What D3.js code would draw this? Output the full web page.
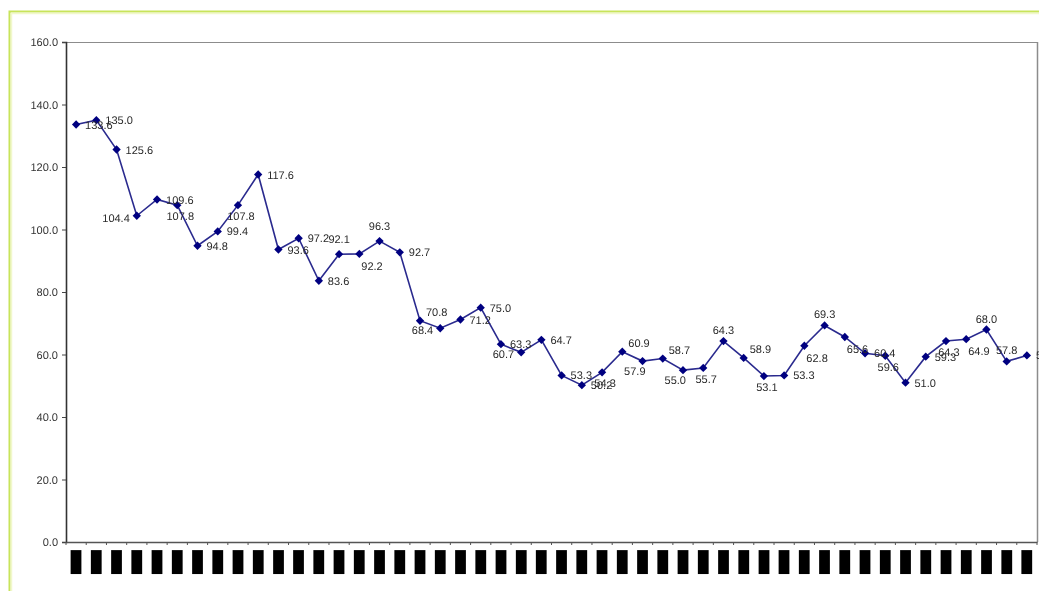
<!DOCTYPE html>
<html>
<head>
<meta charset="utf-8">
<script src="https://cdn.jsdelivr.net/npm/d3@7"></script>
<style>
  html, body { margin: 0; padding: 0; background: #ffffff; }
  svg { display: block; }
  text { -webkit-font-smoothing: antialiased; text-rendering: geometricPrecision; }
  .xaxis, .lbl, .yaxis { filter: grayscale(1); }
</style>
</head>
<body>
<svg id="chart" width="1039" height="591"></svg>
<script>
// ---- data ----
const values = [133.6, 135.0, 125.6, 104.4, 109.6, 107.8, 94.8, 99.4, 107.8, 117.6,
                93.6, 97.2, 83.6, 92.1, 92.2, 96.3, 92.7, 70.8, 68.4, 71.2,
                75.0, 63.3, 60.7, 64.7, 53.3, 50.2, 54.3, 60.9, 57.9, 58.7,
                55.0, 55.7, 64.3, 58.9, 53.1, 53.3, 62.8, 69.3, 65.6, 60.4,
                59.6, 51.0, 59.3, 64.3, 64.9, 68.0, 57.8, 59.7];
const categories = d3.range(1, values.length + 1);
const xTickLabels = categories.map(() => "█");
const yTicks = [0, 20, 40, 60, 80, 100, 120, 140, 160];
// label placement codes (style)
const labelPlace = ["r","r","r","l","r","b","r","r","b","r",
                    "r","r","r","aa","br","aa","r","ar","l","r",
                    "r","r","l","r","r","r","b","ar","bl","ar",
                    "bl","b","a","ar","b","r","br","a","br","r",
                    "b","r","r","b","br","a","a","r"];

const W = 1039, H = 591;
const svg = d3.select("#chart");
const m = { left: 66, top: 42, right: 1037, bottom: 542 };

// outer frame
svg.append("rect").attr("x", 9.5).attr("y", 11.5).attr("width", 1100).attr("height", 700)
  .attr("fill", "#ffffff").attr("stroke", "#c8e45a").attr("stroke-width", 2);
svg.append("line").attr("x1", 11).attr("x2", W).attr("y1", 13.5).attr("y2", 13.5)
  .attr("stroke", "#f1f8cc").attr("stroke-width", 1.5);
svg.append("line").attr("x1", 11.5).attr("x2", 11.5).attr("y1", 13).attr("y2", H)
  .attr("stroke", "#f1f8cc").attr("stroke-width", 1.5);

const x = d3.scaleBand().domain(categories).range([m.left, m.right]);
const y = d3.scaleLinear().domain([0, 160]).range([m.bottom, m.top]);

// plot border top/right
svg.append("line").attr("x1", m.left).attr("x2", m.right).attr("y1", m.top + 0.5).attr("y2", m.top + 0.5)
  .attr("stroke", "#8c8c8c").attr("stroke-width", 1.2);
svg.append("line").attr("x1", m.right + 0.5).attr("x2", m.right + 0.5).attr("y1", m.top).attr("y2", m.bottom)
  .attr("stroke", "#8c8c8c").attr("stroke-width", 1.5);

// y axis
const yAxis = d3.axisLeft(y).tickValues(yTicks).tickFormat(d3.format(".1f")).tickSize(4).tickPadding(4);
const gy = svg.append("g").attr("class", "yaxis").attr("transform", `translate(${m.left},0)`).call(yAxis);
gy.select(".domain").attr("stroke", "#333").attr("stroke-width", 1.6);
gy.selectAll(".tick line").attr("stroke", "#444");
gy.selectAll(".tick text").attr("font-family", "Liberation Sans, Arial, sans-serif")
  .attr("font-size", 11).attr("fill", "#333");

// x axis
const xAxis = d3.axisBottom(x).tickSize(0).tickFormat((d, i) => xTickLabels[i]);
const gx = svg.append("g").attr("class", "xaxis").attr("transform", `translate(0,${m.bottom})`).call(xAxis);
gx.select(".domain").attr("stroke", "#555").attr("stroke-width", 1.6);
// boundary ticks
const bounds = categories.map(c => x(c)).concat([m.right]);
gx.selectAll(".bt").data(bounds).enter().append("line").attr("class", "bt")
  .attr("x1", d => d).attr("x2", d => d).attr("y1", 0).attr("y2", 3)
  .attr("stroke", "#555");
gx.selectAll(".tick text")
  .attr("font-family", "DejaVu Sans, sans-serif").attr("font-size", 25).attr("fill", "#000")
  .attr("dy", null).attr("y", 0).attr("dominant-baseline", "auto")
  .each(function () {
    const t = d3.select(this);
    const bb = this.getBBox();
    const sx = 11.5 / bb.width, sy = 25 / bb.height;
    t.attr("transform", `translate(0,${8 - bb.y * sy}) scale(${sx},${sy})`);
  });

// line
const cx = (d, i) => x(categories[i]) + x.bandwidth() / 2;
const line = d3.line().x((d, i) => cx(d, i)).y(d => y(d));
svg.append("path").datum(values).attr("d", line)
  .attr("fill", "none").attr("stroke", "#2a2a8e").attr("stroke-width", 1.6);

// markers
svg.selectAll(".mk").data(values).enter().append("path").attr("class", "mk")
  .attr("d", d3.symbol().type(d3.symbolDiamond2).size(44))
  .attr("transform", (d, i) => `translate(${cx(d, i)},${y(d)})`)
  .attr("fill", "#000080");

// data labels
const place = {
  r:  { anchor: "start",  dx: 9,  dy: 4 },
  l:  { anchor: "end",    dx: -7, dy: 6 },
  a:  { anchor: "middle", dx: 0,  dy: -7 },
  aa: { anchor: "middle", dx: 0,  dy: -11 },
  b:  { anchor: "middle", dx: 3,  dy: 15 },
  ar: { anchor: "start",  dx: 6,  dy: -5 },
  br: { anchor: "start",  dx: 2,  dy: 16 },
  bl: { anchor: "end",    dx: 3,  dy: 14 }
};
svg.selectAll(".lbl").data(values).enter().append("text").attr("class", "lbl")
  .attr("x", (d, i) => cx(d, i) + place[labelPlace[i]].dx)
  .attr("y", (d, i) => y(d) + place[labelPlace[i]].dy)
  .attr("text-anchor", (d, i) => place[labelPlace[i]].anchor)
  .attr("font-family", "Liberation Sans, Arial, sans-serif").attr("font-size", 11)
  .attr("fill", "#2a2a2a")
  .text(d => d.toFixed(1));
</script>
</body>
</html>
